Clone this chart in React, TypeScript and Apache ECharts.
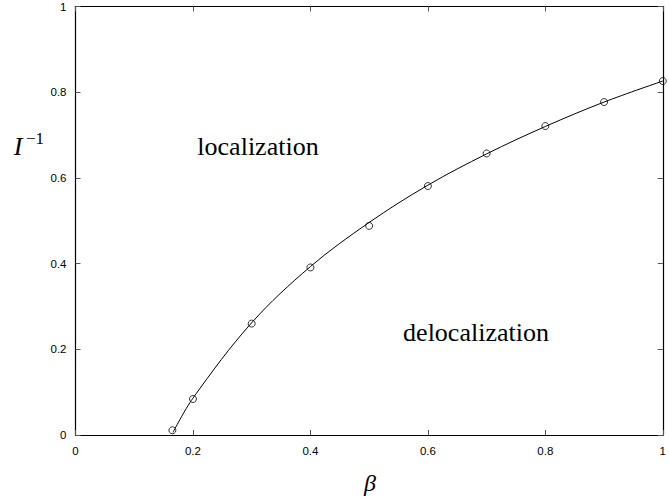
import React, { useEffect, useRef } from "react";
import * as echarts from "echarts";

// measured data points (open circles)
const betaPoints = [0.165, 0.2, 0.3, 0.4, 0.5, 0.6, 0.7, 0.8, 0.9, 1.0];
const invIPoints = [0.011, 0.084, 0.26, 0.391, 0.488, 0.581, 0.657, 0.721, 0.777, 0.826];

// fitted curve (solid line)
const fitBeta = [0.166, 0.2, 0.3, 0.4, 0.5, 0.6, 0.7, 0.8, 0.9, 1.0];
const fitValues = [0.006, 0.086, 0.262, 0.393, 0.496, 0.583, 0.656, 0.72, 0.777, 0.826];

const tickValues = [0, 0.2, 0.4, 0.6, 0.8, 1];

const xTitle = "β";
const yTitleMain = "I";
const yTitleSup = "−1";
const regionTop = "localization";
const regionBottom = "delocalization";

const tickFont = "Liberation Sans, Arial, Helvetica, sans-serif";
const serif = "Liberation Serif, Times New Roman, serif";

export default function App() {
  const ref = useRef<HTMLDivElement>(null);
  useEffect(() => {
    document.body.style.margin = "0";
    const chart = echarts.init(ref.current!, null, { renderer: "svg" });
    const left = 75.5;
    const top = 6.5;
    const width = 592;
    const height = 428.5;
    const fmt = (v: number) => (tickValues.includes(Math.round(v * 10) / 10) ? String(Math.round(v * 10) / 10) : "");
    const axisLine = { show: true, onZero: false, lineStyle: { color: "#000", width: 1.2 } };
    const axisTick = { show: true, inside: true, length: 5, lineStyle: { color: "#555", width: 1 } };
    chart.setOption({
      animation: false,
      backgroundColor: "#fff",
      grid: { left, top, width, height, containLabel: false },
      xAxis: [
        {
          type: "value",
          min: 0,
          max: 1,
          interval: 0.2,
          position: "bottom",
          axisLine,
          axisTick,
          splitLine: { show: false },
          axisLabel: { color: "#000", fontFamily: tickFont, fontSize: 11.5, margin: 10, formatter: fmt },
        },
        {
          type: "value",
          min: 0,
          max: 1,
          interval: 0.2,
          position: "top",
          axisLine,
          axisTick,
          splitLine: { show: false },
          axisLabel: { show: false },
        },
      ],
      yAxis: [
        {
          type: "value",
          min: 0,
          max: 1,
          interval: 0.2,
          position: "left",
          axisLine,
          axisTick,
          splitLine: { show: false },
          axisLabel: { color: "#000", fontFamily: tickFont, fontSize: 11.5, margin: 9, formatter: fmt },
        },
        {
          type: "value",
          min: 0,
          max: 1,
          interval: 0.2,
          position: "right",
          axisLine,
          axisTick,
          splitLine: { show: false },
          axisLabel: { show: false },
        },
      ],
      series: [
        {
          type: "line",
          data: fitBeta.map((b, i) => [b, fitValues[i]]),
          smooth: 0.35,
          showSymbol: false,
          symbol: "none",
          lineStyle: { color: "#000", width: 1 },
          silent: true,
        },
        {
          type: "scatter",
          data: betaPoints.map((b, i) => [b, invIPoints[i]]),
          symbol: "circle",
          symbolSize: 7,
          itemStyle: { color: "rgba(255,255,255,0)", borderColor: "#000", borderWidth: 1 },
        },
      ],
      graphic: [
        {
          type: "text",
          x: 370,
          y: 483,
          style: { text: xTitle, font: `italic 24px ${serif}`, fill: "#000", align: "center", verticalAlign: "middle" },
        },
        {
          type: "text",
          x: 18,
          y: 146,
          style: { text: yTitleMain, font: `italic 26px ${serif}`, fill: "#000", align: "center", verticalAlign: "middle" },
        },
        {
          type: "text",
          x: 35,
          y: 138,
          style: { text: yTitleSup, font: `17px ${serif}`, fill: "#000", align: "center", verticalAlign: "middle" },
        },
        {
          type: "text",
          x: 258,
          y: 146,
          style: { text: regionTop, font: `26px ${serif}`, fill: "#000", align: "center", verticalAlign: "middle" },
        },
        {
          type: "text",
          x: 476,
          y: 332,
          style: { text: regionBottom, font: `26px ${serif}`, fill: "#000", align: "center", verticalAlign: "middle" },
        },
      ],
    });
    return () => chart.dispose();
  }, []);
  return <div ref={ref} style={{ width: 669, height: 497 }} />;
}
